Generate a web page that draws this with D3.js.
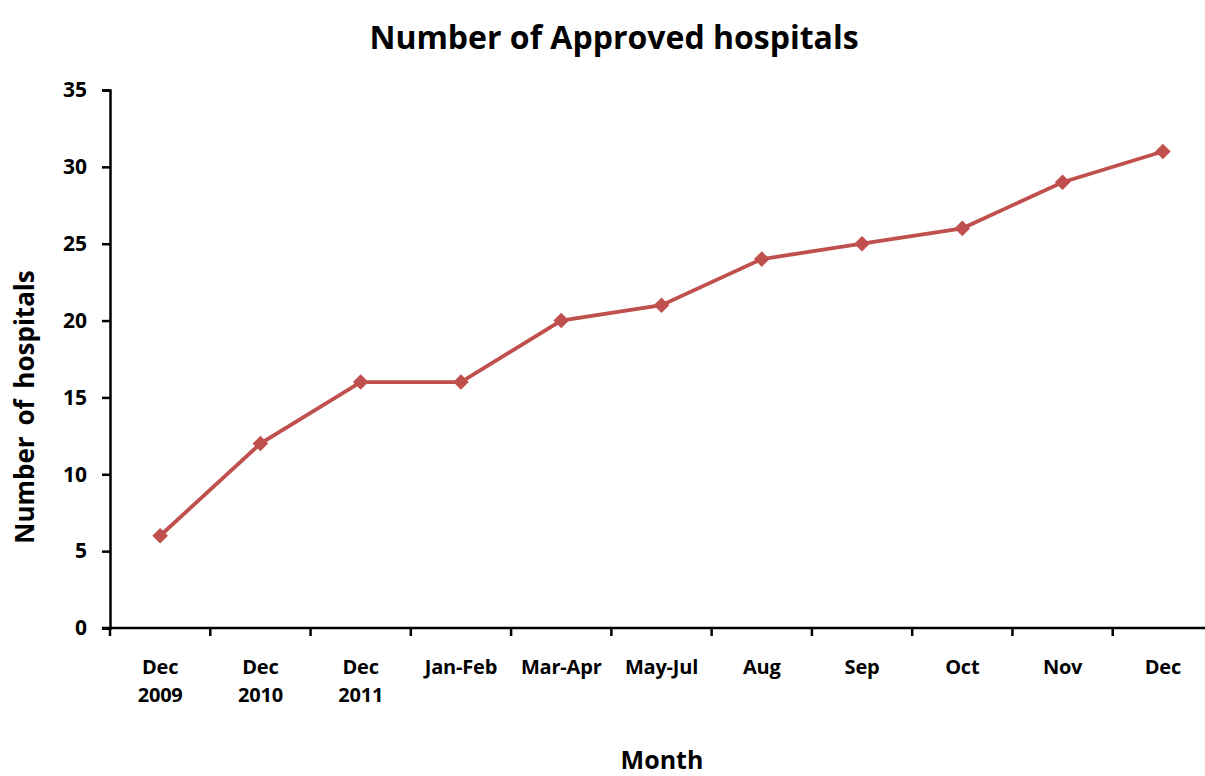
<!DOCTYPE html>
<html>
<head>
<meta charset="utf-8">
<script src="https://cdn.jsdelivr.net/npm/d3@7"></script>
<style>
  html, body { margin: 0; padding: 0; background: #fff; }
  svg { display: block; }
  text { font-family: "Open Sans", Lato, sans-serif; font-weight: bold; fill: #000; }
</style>
</head>
<body>
<svg id="chart" width="1205" height="776"></svg>
<script>
// Categories (two-line labels split on "\n") and approved hospital counts
const categories = ["Dec\n2009", "Dec\n2010", "Dec\n2011", "Jan-Feb", "Mar-Apr", "May-Jul", "Aug", "Sep", "Oct", "Nov", "Dec"];
const hospitals = [6, 12, 16, 16, 20, 21, 24, 25, 26, 29, 31];
const yTicks = [0, 5, 10, 15, 20, 25, 30, 35];

const svg = d3.select("#chart");
const margin = { left: 110, top: 90, right: 1213, bottom: 628 };

const x = d3.scaleBand().domain(categories).range([margin.left, margin.right]);
const y = d3.scaleLinear().domain([0, 35]).range([margin.bottom, margin.top]);

// Title
svg.append("text")
  .attr("x", 614).attr("y", 49)
  .attr("text-anchor", "middle")
  .style("font-size", "32px")
  .text("Number of Approved hospitals");

// Y axis
const yAxis = svg.append("g")
  .attr("transform", `translate(${margin.left},0)`)
  .call(d3.axisLeft(y).tickValues(yTicks).tickSize(8).tickPadding(15));
yAxis.select(".domain").attr("stroke", "#000").attr("stroke-width", 2.5);
yAxis.selectAll(".tick line").attr("stroke", "#000").attr("stroke-width", 2.5);
yAxis.selectAll(".tick text")
  .attr("font-size", 21)
  .style("font-size", "21px")
  .style("font-family", "\"Open Sans\", sans-serif")
  .style("font-weight", "bold");

// X axis with tick marks at band boundaries
const xAxisG = svg.append("g").attr("transform", `translate(0,${margin.bottom})`);
xAxisG.append("line")
  .attr("x1", margin.left - 8).attr("x2", 1205)
  .attr("stroke", "#000").attr("stroke-width", 2.5);
const boundaries = categories.map(c => x(c));
xAxisG.selectAll("line.tk").data(boundaries).join("line")
  .attr("class", "tk")
  .attr("x1", d => d).attr("x2", d => d)
  .attr("y1", 0).attr("y2", 8)
  .attr("stroke", "#000").attr("stroke-width", 2.5);

const labels = xAxisG.selectAll("text.lbl").data(categories).join("text")
  .attr("class", "lbl")
  .attr("x", d => x(d) + x.bandwidth() / 2)
  .attr("y", 46)
  .attr("text-anchor", "middle")
  .style("font-size", "20px")
  .style("letter-spacing", "-0.2px");
labels.each(function(d) {
  const parts = d.split("\n");
  const t = d3.select(this);
  parts.forEach((p, i) => {
    t.append("tspan").attr("x", x(d) + x.bandwidth() / 2).attr("dy", i === 0 ? 0 : 28).text(p);
  });
});

// Axis titles
svg.append("text")
  .attr("x", 662).attr("y", 769)
  .attr("text-anchor", "middle")
  .style("font-size", "25px")
  .text("Month");

svg.append("text")
  .attr("transform", "translate(34,407) rotate(-90)")
  .attr("text-anchor", "middle")
  .style("font-size", "26px")
  .style("word-spacing", "4px")
  .text("Number of hospitals");

// Series line and diamond markers
const color = "#c0504d";
const line = d3.line()
  .x((d, i) => x(categories[i]) + x.bandwidth() / 2)
  .y(d => y(d));

svg.append("path")
  .datum(hospitals)
  .attr("d", line)
  .attr("fill", "none")
  .attr("stroke", color)
  .attr("stroke-width", 3.8);

svg.selectAll("path.marker").data(hospitals).join("path")
  .attr("class", "marker")
  .attr("transform", (d, i) => `translate(${x(categories[i]) + x.bandwidth() / 2},${y(d)})`)
  .attr("d", d3.symbol().type(d3.symbolDiamond2).size(155))
  .attr("fill", color);
</script>
</body>
</html>
